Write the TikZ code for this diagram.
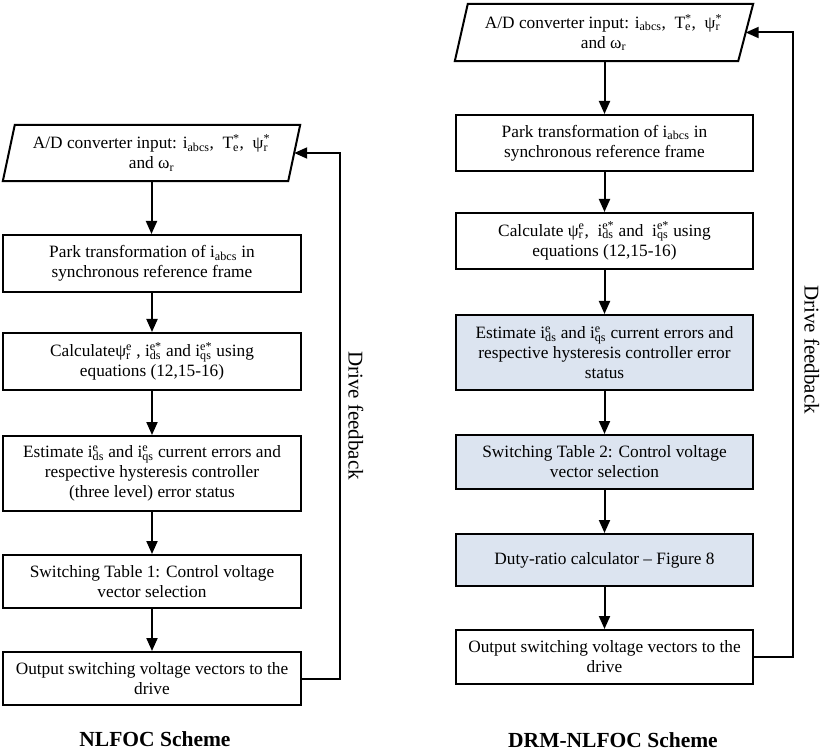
\documentclass[tikz,border=0pt]{standalone}
\usepackage{fontspec}
\setmainfont{Liberation Serif}
\usetikzlibrary{arrows.meta,calc}
\definecolor{boxblue}{HTML}{DCE4F0}
\newcommand\sbsp[2]{\begingroup\setbox0=\hbox{\textsuperscript{#2}}\setbox2=\hbox{\textsubscript{#1}}\ifdim\wd0>\wd2 \rlap{\box2}\box0\else\rlap{\box0}\box2\fi\endgroup}
\tikzset{
  line/.style={line width=2pt},
  arr/.style={line width=2pt,-{Triangle[length=13pt,width=11pt]}},
  box/.style={draw,line width=2pt,align=center,inner sep=0pt,font=\fontsize{17.3}{20}\selectfont},
  inbox/.style={align=center,inner sep=0pt,font=\fontsize{17.3}{20}\selectfont},
  bluebox/.style={box,fill=boxblue},
  title/.style={font=\fontsize{21.5}{24}\selectfont\bfseries,anchor=base},
  fb/.style={font=\fontsize{21}{24}\selectfont,rotate=-90}
}
\begin{document}
\begin{tikzpicture}[x=1pt,y=-1pt]
\useasboundingbox (0,0) rectangle (825,751);
% ---------- left: NLFOC ----------
\node[inbox,minimum width=285pt,minimum height=56pt] (a1) at (151.5,153) {A/D converter input: i\textsubscript{abcs}, \ T\sbsp{e}{*}, \ ψ\sbsp{r}{*}\\and ω\textsubscript{r}};
\draw[line] ($(a1.south west)+(-6,0)$) -- ($(a1.north west)+(6,0)$) -- ($(a1.north east)+(6,0)$) -- ($(a1.south east)+(-6,0)$) -- cycle;
\node[box,minimum width=298pt,minimum height=57pt] (a2) at (152,263.5) {Park transformation of i\textsubscript{abcs} in\\synchronous reference frame};
\node[box,minimum width=298pt,minimum height=57pt] (a3) at (152,361.5) {Calculateψ\sbsp{r}{e} , i\sbsp{ds}{e*} and i\sbsp{qs}{e*} using\\equations (12,15-16)};
\node[box,minimum width=298pt,minimum height=75pt] (a4) at (152,473.5) {Estimate i\sbsp{ds}{e} and i\sbsp{qs}{e} current errors and\\respective hysteresis controller\\(three level) error status};
\node[box,minimum width=298pt,minimum height=53pt] (a5) at (152,581.5) {Switching Table 1: Control voltage\\vector selection};
\node[box,minimum width=298pt,minimum height=53pt] (a6) at (152,678.5) {Output switching voltage vectors to the\\drive};
\draw[arr] (a1.south) -- (a1.south |- a2.north);
\draw[arr] (a2) -- (a3);
\draw[arr] (a3) -- (a4);
\draw[arr] (a4) -- (a5);
\draw[arr] (a5) -- (a6);
\coordinate (fl) at (340,0);
\draw[arr] (a6.east) -| (fl |- a1.east) -- (a1.east);
\node[fb] (fbl) at (356,415.5) {Drive feedback};
\node[title] (tl) at (155,746) {NLFOC Scheme};
% ---------- right: DRM-NLFOC ----------
\node[inbox,minimum width=284pt,minimum height=57pt] (b1) at (603.5,32.5) {A/D converter input: i\textsubscript{abcs}, \ T\sbsp{e}{*}, \ ψ\sbsp{r}{*}\\and ω\textsubscript{r}};
\draw[line] ($(b1.south west)+(-6.5,0)$) -- ($(b1.north west)+(6.5,0)$) -- ($(b1.north east)+(7.5,0)$) -- ($(b1.south east)+(-7.5,0)$) -- cycle;
\node[box,minimum width=297pt,minimum height=56pt] (b2) at (604.5,143) {Park transformation of i\textsubscript{abcs} in\\synchronous reference frame};
\node[box,minimum width=297pt,minimum height=56pt] (b3) at (604.5,241) {Calculate ψ\sbsp{r}{e}, \ i\sbsp{ds}{e*} and \ i\sbsp{qs}{e*} using\\equations (12,15-16)};
\node[bluebox,minimum width=297pt,minimum height=75pt] (b4) at (604.5,352.5) {Estimate i\sbsp{ds}{e} and i\sbsp{qs}{e} current errors and\\respective hysteresis controller error\\status};
\node[bluebox,minimum width=297pt,minimum height=54pt] (b5) at (604.5,462) {Switching Table 2: Control voltage\\vector selection};
\node[bluebox,minimum width=297pt,minimum height=52pt] (b6) at (604.5,560) {Duty-ratio calculator – Figure 8};
\node[box,minimum width=297pt,minimum height=54pt] (b7) at (604.5,657) {Output switching voltage vectors to the\\drive};
\draw[arr] (b1.south -| b2.north) -- (b2.north);
\draw[arr] (b2) -- (b3);
\draw[arr] (b3) -- (b4);
\draw[arr] (b4) -- (b5);
\draw[arr] (b5) -- (b6);
\draw[arr] (b6) -- (b7);
\coordinate (fr) at (793,0);
\draw[arr] (b7.east) -| (fr |- b1.east) -- (b1.east);
\node[fb] (fbr) at (812,349.5) {Drive feedback};
\node[title] (tr) at (613,747) {DRM-NLFOC Scheme};
\end{tikzpicture}
\end{document}
